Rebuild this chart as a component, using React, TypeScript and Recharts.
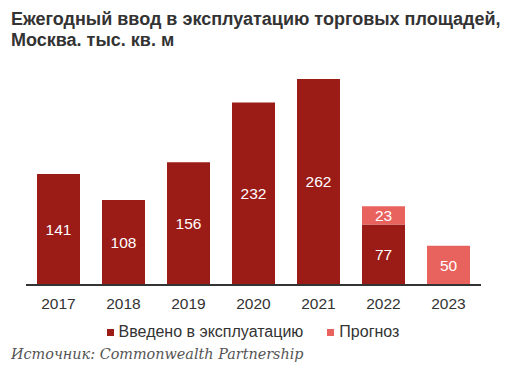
import React from "react";
import { BarChart, Bar, XAxis, YAxis, LabelList } from "recharts";

const years = ["2017", "2018", "2019", "2020", "2021", "2022", "2023"];
const commissioned: (number | null)[] = [141, 108, 156, 232, 262, 77, null];
const forecast: (number | null)[] = [null, null, null, null, null, 23, 50];
const seriesNames = ["Введено в эксплуатацию", "Прогноз"];
const colors = ["#9B1B17", "#E8625E"];

const data = years.map((y, i) => ({
  year: y,
  done: commissioned[i],
  plan: forecast[i],
}));

const SANS = "'Liberation Sans', Arial, sans-serif";

export default function App() {
  return (
    <div style={{ position: "absolute", left: 0, top: 0, width: 516, height: 373, background: "#fff" }}>
      <div
        style={{
          position: "absolute",
          left: 11,
          top: 9,
          fontFamily: SANS,
          fontWeight: "bold",
          fontSize: 18,
          lineHeight: "21px",
          color: "#333",
          width: 505,
        }}
      >
        Ежегодный ввод в эксплуатацию торговых площадей,
        <br />
        Москва. тыс. кв. м
      </div>
      <BarChart
        width={516}
        height={373}
        data={data}
        margin={{ top: 49, right: 35, bottom: 58, left: 26 }}
        barCategoryGap={11}
      >
        <XAxis
          dataKey="year"
          height={30}
          axisLine={{ stroke: "#333", strokeWidth: 2 }}
          tickLine={false}
          tickSize={6}
          tickMargin={7}
          tick={{ fill: "#333", fontSize: 15.5, fontFamily: SANS }}
        />
        <YAxis hide domain={[0, 300]} />
        <Bar dataKey="done" stackId="a" fill={colors[0]} isAnimationActive={false}>
          <LabelList dataKey="done" position="center" fill="#fff" fontSize={15.5} fontFamily={SANS} />
        </Bar>
        <Bar dataKey="plan" stackId="a" fill={colors[1]} isAnimationActive={false}>
          <LabelList dataKey="plan" position="center" fill="#fff" fontSize={15.5} fontFamily={SANS} />
        </Bar>
      </BarChart>
      <div
        style={{
          position: "absolute",
          top: 323,
          left: 0,
          width: 516,
          boxSizing: "border-box",
          display: "flex",
          justifyContent: "center",
          fontFamily: SANS,
          fontSize: 16,
          color: "#333",
          gap: 24,
          paddingRight: 10,
        }}
      >
        {seriesNames.map((n, i) => (
          <div key={n} style={{ display: "flex", alignItems: "center" }}>
            <span
              style={{
                display: "inline-block",
                width: 7,
                height: 7,
                background: colors[i],
                marginRight: 5,
              }}
            />
            <span>{n}</span>
          </div>
        ))}
      </div>
      <div
        style={{
          position: "absolute",
          left: 11,
          top: 346,
          fontFamily: "'DejaVu Serif', Georgia, serif",
          fontStyle: "italic",
          fontSize: 14.4,
          color: "#555",
        }}
      >
        Источник: Commonwealth Partnership
      </div>
    </div>
  );
}
